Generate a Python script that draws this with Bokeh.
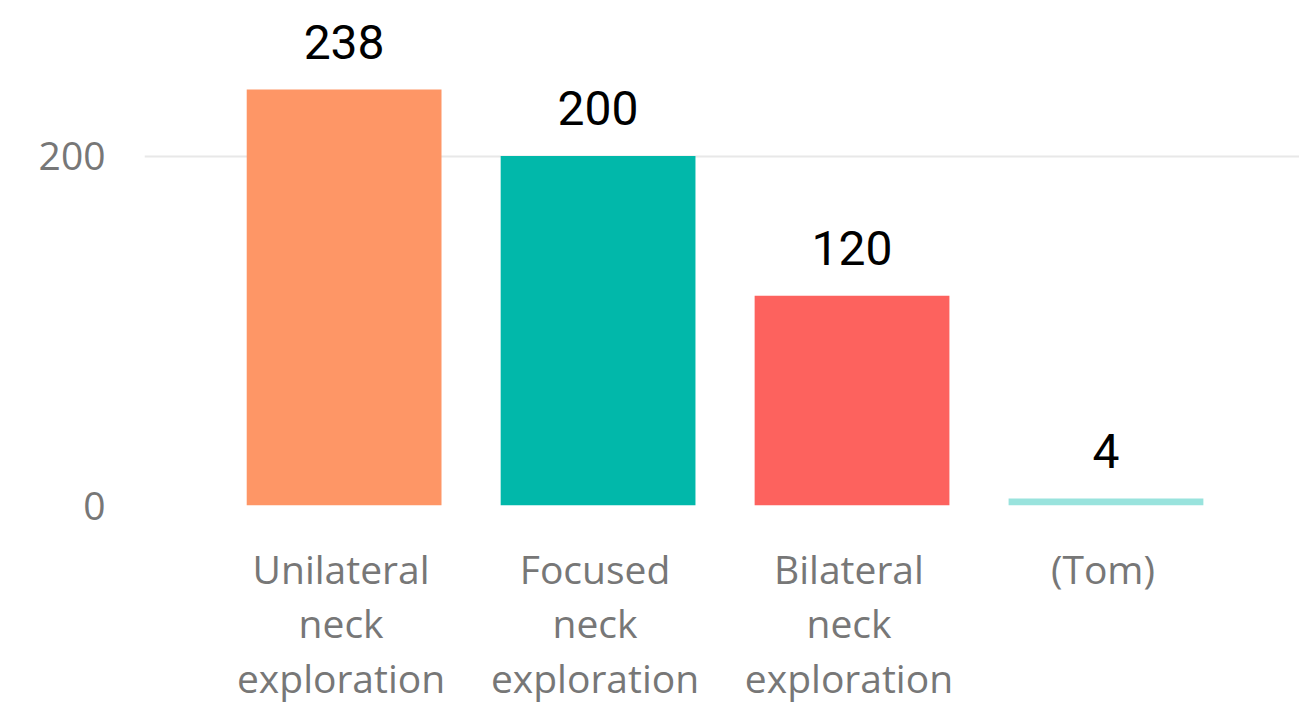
from bokeh.plotting import figure
from bokeh.models import ColumnDataSource, FactorRange, Range1d, FixedTicker
from bokeh.transform import dodge
from bokeh.core.properties import value
from bokeh.embed import file_html
from bokeh.resources import INLINE

categories = ["Unilateral\nneck\nexploration", "Focused\nneck\nexploration",
              "Bilateral\nneck\nexploration", "(Tom)"]
counts = [238, 200, 120, 4]
colors = ["#FE9666", "#01B8AA", "#FD625E", "#99E3DD"]
labels = [str(c) for c in counts]

src = ColumnDataSource(dict(cat=categories, val=counts, color=colors, label=labels))

xr = FactorRange(*categories, range_padding=0.274, range_padding_units="absolute")
p = figure(width=1299, height=706, output_backend="svg", toolbar_location=None,
           x_range=xr, y_range=Range1d(0, 289),
           min_border_left=144, min_border_right=0, min_border_top=0, min_border_bottom=200)
p.outline_line_color = None
p.background_fill_color = "white"
p.border_fill_color = "white"

xpos = dodge("cat", 0.012, range=xr)
p.vbar(x=xpos, top="val", width=0.767, color="color", line_color=None, source=src)
p.text(x=xpos, y="val", text="label", source=src, text_align="center",
       text_baseline="alphabetic", y_offset=-48, text_font=value("Roboto"),
       text_font_size="48px", text_color="#000000", text_font_style="normal")

p.xgrid.grid_line_color = None
p.ygrid.grid_line_color = "#E8E8E8"
p.ygrid.grid_line_width = 2
p.yaxis.ticker = FixedTicker(ticks=[0, 200])

for ax in (p.xaxis[0], p.yaxis[0]):
    ax.axis_line_color = None
    ax.major_tick_line_color = None
    ax.minor_tick_line_color = None
    ax.major_label_text_color = "#777777"
    ax.major_label_text_font = "Open Sans"
    ax.major_label_text_font_size = "39px"

p.yaxis.major_label_standoff = 33
p.xaxis.major_label_standoff = 30
p.xaxis.major_label_text_line_height = 1.03

open("out.html", "w").write(file_html(p, INLINE))
